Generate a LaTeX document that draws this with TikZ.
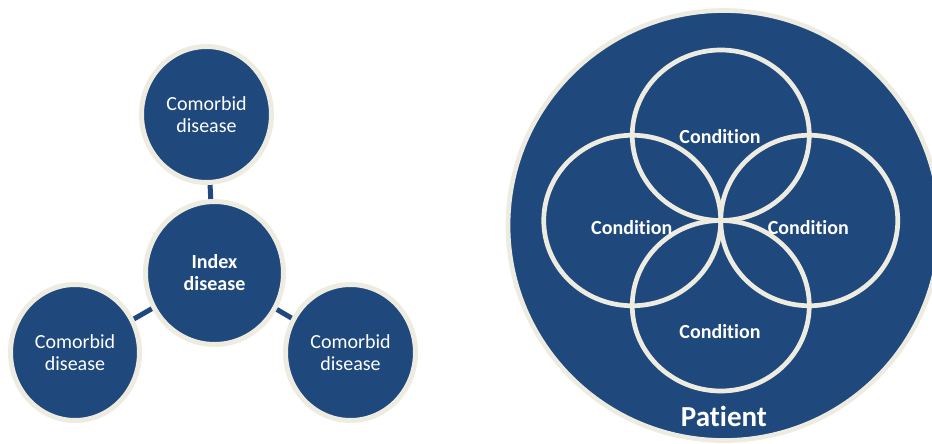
\documentclass[tikz,border=0pt]{standalone}
\usepackage{fontspec}
\setmainfont[Ligatures=NoCommon]{Carlito}
\usetikzlibrary{shapes.geometric,backgrounds}
\definecolor{navy}{RGB}{31,73,125}
\definecolor{cream}{RGB}{238,236,225}
\begin{document}
\begin{tikzpicture}[x=1pt,y=-1pt,
  disc/.style={ellipse, inner sep=0pt, fill=navy, draw=cream, line width=5pt,
    text=white, align=center, font=\fontsize{20}{22}\selectfont},
  link/.style={draw=navy, line width=5pt},
  cond/.style={ellipse, inner sep=0pt, draw=cream, line width=4.7pt,
    minimum width=177pt, minimum height=170.5pt},
  condlabel/.style={anchor=base, text=white, font=\bfseries\fontsize{20}{22}\selectfont}]
\useasboundingbox (0,0) rectangle (932,444);
\clip (0,0) rectangle (932,444);

% Left: index disease with its comorbid diseases
\node[disc, minimum width=130pt, minimum height=136pt] (top) at (206.5,114.5) {Comorbid\\disease};
\node[disc, minimum width=138pt, minimum height=143pt,
  font=\bfseries\fontsize{20}{22}\selectfont] (index) at (214.5,273) {Index\\disease};
\node[disc, minimum width=129pt, minimum height=136pt] (left) at (75,352.5) {Comorbid\\disease};
\node[disc, minimum width=130pt, minimum height=136pt] (right) at (350.5,352.5) {Comorbid\\disease};

\begin{scope}[on background layer]
  \draw[link] (index.center) -- (top.center);
  \draw[link] (index.center) -- (left.center);
  \draw[link] (index.center) -- (right.center);
\end{scope}

% Right: patient holding overlapping conditions
\node[ellipse, inner sep=0pt, fill=navy, draw=cream, line width=4.7pt,
  minimum width=432pt, minimum height=430pt] (patient) at (724,225.5) {};
\node[cond] (cn) at (720.75,135.25) {};
\node[cond] (cw) at (632.25,220.5) {};
\node[cond] (ce) at (809.25,220.5) {};
\node[cond] (cs) at (720.75,305.75) {};

\node[condlabel] (ln) at (720,143) {Condition};
\node[condlabel] (lw) at (631.7,234) {Condition};
\node[condlabel] (le) at (808.3,234) {Condition};
\node[condlabel] (ls) at (720,338) {Condition};
\node[anchor=base, text=white, font=\bfseries\fontsize{29}{32}\selectfont] (pl) at (724,426) {Patient};
\end{tikzpicture}
\end{document}
